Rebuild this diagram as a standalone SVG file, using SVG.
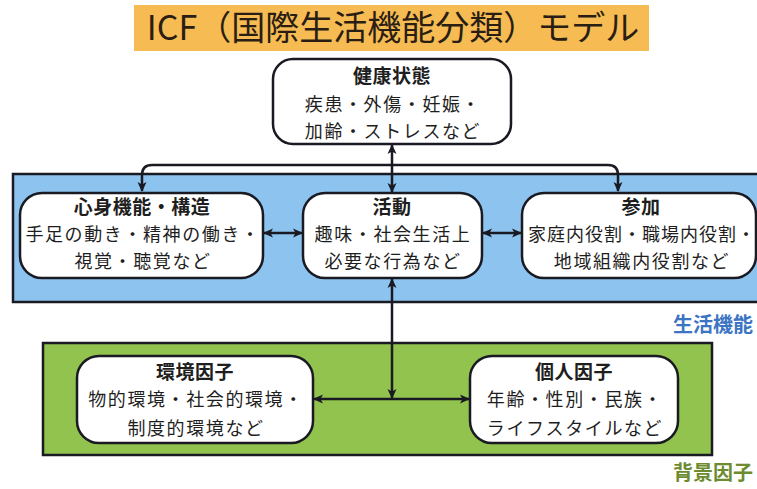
<svg xmlns="http://www.w3.org/2000/svg" width="757" height="489" viewBox="0 0 757 489">
<defs>
<style>
.node{fill:#ffffff;stroke:#1a1a22;stroke-width:2.5}
.band{stroke:#1a1a22;stroke-width:2.5}
.t{font-family:"Noto Sans CJK JP","Noto Sans",sans-serif;font-size:18px;letter-spacing:1.6px;fill:#1e1e1e;text-anchor:middle}
.h{font-weight:bold;font-size:19px;letter-spacing:0.5px}
.conn{fill:none;stroke:#1a1a22;stroke-width:2.5}
</style>
<marker id="ah" viewBox="0 0 10 10" refX="9" refY="5" markerWidth="10" markerHeight="10" markerUnits="userSpaceOnUse" orient="auto-start-reverse">
<path d="M0,0.5 L10,5 L0,9.5 L2.5,5 Z" fill="#1a1a22"/>
</marker>
</defs>
<rect width="757" height="489" fill="#ffffff"/>
<g id="title">
<rect x="134" y="5" width="515" height="46" fill="#F6BB52"/>
<text x="393" y="40" style="font-family:'Noto Sans CJK JP','Noto Sans',sans-serif;font-size:34px;fill:#2a1e14;text-anchor:middle">ICF（国際生活機能分類）モデル</text>
</g>
<g id="band-life">
<rect class="band" x="13" y="174" width="760" height="128" fill="#8DC3EF"/>
<text x="713" y="332" style="font-family:'Noto Sans CJK JP',sans-serif;font-size:20px;font-weight:bold;fill:#3C74C4;text-anchor:middle">生活機能</text>
</g>
<g id="band-context">
<rect class="band" x="43" y="343" width="669" height="112" fill="#92C34E"/>
<text x="713" y="480" style="font-family:'Noto Sans CJK JP',sans-serif;font-size:20px;font-weight:bold;fill:#6D8B2F;text-anchor:middle">背景因子</text>
</g>
<g id="connectors">
<line class="conn" x1="392" y1="145" x2="392" y2="192" marker-start="url(#ah)" marker-end="url(#ah)"/>
<path class="conn" d="M142,191 V175 Q142,165 152,165 H608 Q618,165 618,175 V191" marker-start="url(#ah)" marker-end="url(#ah)"/>
<line class="conn" x1="264" y1="233" x2="302" y2="233" marker-start="url(#ah)" marker-end="url(#ah)"/>
<line class="conn" x1="483" y1="233" x2="521" y2="233" marker-start="url(#ah)" marker-end="url(#ah)"/>
<line class="conn" x1="392" y1="279" x2="392" y2="398" marker-start="url(#ah)" marker-end="url(#ah)"/>
<line class="conn" x1="314" y1="399" x2="469" y2="399" marker-start="url(#ah)" marker-end="url(#ah)"/>
</g>
<g id="health">
<rect class="node" x="273" y="59" width="238" height="85" rx="20"/>
<text class="t h" x="392" y="83">健康状態</text>
<text class="t" x="393" y="111">疾患・外傷・妊娠・</text>
<text class="t" x="393" y="137.5">加齢・ストレスなど</text>
</g>
<g id="body">
<rect class="node" x="20" y="193" width="243" height="85" rx="22"/>
<text class="t h" x="142" y="214">心身機能・構造</text>
<text class="t" x="143" y="241">手足の動き・精神の働き・</text>
<text class="t" x="143" y="267.5">視覚・聴覚など</text>
</g>
<g id="activity">
<rect class="node" x="303" y="193" width="179" height="85" rx="22"/>
<text class="t h" x="392" y="214">活動</text>
<text class="t" x="393" y="241">趣味・社会生活上</text>
<text class="t" x="393" y="267.5">必要な行為など</text>
</g>
<g id="participation">
<rect class="node" x="522" y="193" width="234" height="85" rx="22"/>
<text class="t h" x="641" y="214">参加</text>
<text class="t" x="642" y="241" style="letter-spacing:1px">家庭内役割・職場内役割・</text>
<text class="t" x="642" y="267.5">地域組織内役割など</text>
</g>
<g id="environment">
<rect class="node" x="77" y="356" width="236" height="87" rx="22"/>
<text class="t h" x="195" y="379">環境因子</text>
<text class="t" x="196" y="406">物的環境・社会的環境・</text>
<text class="t" x="196" y="435">制度的環境など</text>
</g>
<g id="personal">
<rect class="node" x="470" y="356" width="208" height="87" rx="22"/>
<text class="t h" x="574" y="379">個人因子</text>
<text class="t" x="575" y="406">年齢・性別・民族・</text>
<text class="t" x="575" y="435">ライフスタイルなど</text>
</g>
</svg>
